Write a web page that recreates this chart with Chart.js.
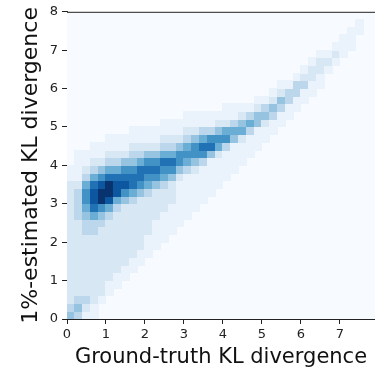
<!DOCTYPE html>
<html>
<head>
<meta charset="utf-8">
<script src="https://cdn.jsdelivr.net/npm/chart.js@4/dist/chart.umd.min.js"></script>
<style>
  html, body { margin: 0; padding: 0; background: #fff; }
</style>
</head>
<body>
<canvas id="kl" width="375" height="370"></canvas>
<script>
// 2D density on a 0.2 x 0.2 grid.
// one entry per x bin: where the non-background cells start (y bin index)
// and their shade level (0 = background .. 9 = darkest), going up.
const binSize = 0.2;
const xBins = [0, 0.2, 0.4, 0.6, 0.8, 1.0, 1.2, 1.4, 1.6, 1.8,
  2.0, 2.2, 2.4, 2.6, 2.8, 3.0, 3.2, 3.4, 3.6, 3.8,
  4.0, 4.2, 4.4, 4.6, 4.8, 5.0, 5.2, 5.4, 5.6, 5.8,
  6.0, 6.2, 6.4, 6.6, 6.8, 7.0, 7.2, 7.4, 7.6, 7.8];
const yStart = [0, 0, 0, 0, 2, 3, 4, 5, 6, 7,
  8, 9, 10, 11, 12, 13, 14, 15, 16, 17,
  18, 19, 20, 21, 22, 23, 24, 25, 26, 27,
  28, 29, 30, 32, 33, 34, 35, 37, 0, 0];
const colLevels = [
  "43222222222222222211",
  "3432222222222333321111",
  "1232222222233456653211",
  "11222222222335788753211",
  "122222222234699864211",
  "112222222235899753211",
  "11222222223588753211",
  "1122222222468764211",
  "1122222223577643211",
  "112222222467753211",
  "11122222356764211",
  "1111222246764211",
  "1111222356753211",
  "111122246753211",
  "11111124664211",
  "11111135653211",
  "1111124664211",
  "111113675311",
  "11111476311",
  "1111256421",
  "1111365211",
  "111145311",
  "11125421",
  "1113531",
  "1114421",
  "112431",
  "113421",
  "113421",
  "11331",
  "11331",
  "11321",
  "11221",
  "11221",
  "121",
  "121",
  "111",
  "111",
  "11",
  "",
  ""
];
const xTicks = [0, 1, 2, 3, 4, 5, 6, 7];
const yTicks = [0, 1, 2, 3, 4, 5, 6, 7, 8];

// Blues-like shades for levels 0..9
const palette = ['#f7fbff', '#eaf2fb', '#d7e7f4', '#bcd7ec', '#96c4e0',
  '#6aaed6', '#4292c6', '#2171b5', '#0d56a0', '#08336e'];

const cells = [];
colLevels.forEach((col, c) => {
  for (let k = 0; k < col.length; k++) {
    const v = Number(col[k]);
    if (v > 0) {
      cells.push({ x: xBins[c] + binSize / 2, y: (yStart[c] + k) * binSize + binSize / 2, v: v });
    }
  }
});

const heatmapCells = {
  id: 'heatmapCells',
  beforeDatasetsDraw(chart) {
    const { ctx, chartArea: a, scales: { x, y } } = chart;
    ctx.save();
    ctx.beginPath();
    ctx.rect(a.left, a.top, a.right - a.left, a.bottom - a.top);
    ctx.clip();
    ctx.fillStyle = palette[0];
    ctx.fillRect(a.left, a.top, a.right - a.left, a.bottom - a.top);
    chart.data.datasets[0].data.forEach(p => {
      const x0 = Math.floor(x.getPixelForValue(p.x - binSize / 2));
      const x1 = Math.ceil(x.getPixelForValue(p.x + binSize / 2));
      const y0 = Math.floor(y.getPixelForValue(p.y + binSize / 2));
      const y1 = Math.ceil(y.getPixelForValue(p.y - binSize / 2));
      ctx.fillStyle = palette[p.v];
      ctx.fillRect(x0, y0, x1 - x0, y1 - y0);
    });
    ctx.restore();
  },
  afterDraw(chart) {
    // top spine
    const { ctx, chartArea: a } = chart;
    ctx.save();
    ctx.strokeStyle = '#222';
    ctx.lineWidth = 1;
    ctx.beginPath();
    ctx.moveTo(a.left, a.top + 0.5);
    ctx.lineTo(a.right, a.top + 0.5);
    ctx.stroke();
    ctx.restore();
  }
};

const tickFont = { family: 'DejaVu Sans', size: 13 };

new Chart(document.getElementById('kl'), {
  type: 'scatter',
  data: {
    datasets: [{ data: cells, pointRadius: 0, pointHoverRadius: 0 }]
  },
  options: {
    responsive: false,
    animation: false,
    layout: { padding: { top: 11, right: 0, left: 0, bottom: 0 } },
    plugins: { legend: { display: false }, tooltip: { enabled: false } },
    scales: {
      x: {
        type: 'linear',
        min: 0,
        max: 7.9,
        afterBuildTicks: s => { s.ticks = xTicks.map(v => ({ value: v })); },
        afterFit: s => { s.height = 51; },
        ticks: { font: tickFont, color: '#222', padding: 3, maxRotation: 0 },
        grid: { drawOnChartArea: false, tickLength: 5, tickColor: '#222' },
        border: { color: '#222', width: 1 },
        title: { display: true, text: 'Ground-truth KL divergence', font: { family: 'DejaVu Sans', size: 21 }, color: '#111', padding: { top: 0, bottom: 0 } }
      },
      y: {
        type: 'linear',
        min: 0,
        max: 8,
        afterBuildTicks: s => { s.ticks = yTicks.map(v => ({ value: v })); },
        afterFit: s => { s.width = 67; },
        ticks: { font: tickFont, color: '#222', padding: 4 },
        grid: { drawOnChartArea: false, tickLength: 5, tickColor: '#222' },
        border: { color: '#222', width: 1 },
        title: { display: true, text: '1%-estimated KL divergence', font: { family: 'DejaVu Sans', size: 22 }, color: '#111', padding: { top: 18, bottom: 0 } }
      }
    }
  },
  plugins: [heatmapCells]
});
</script>
</body>
</html>
